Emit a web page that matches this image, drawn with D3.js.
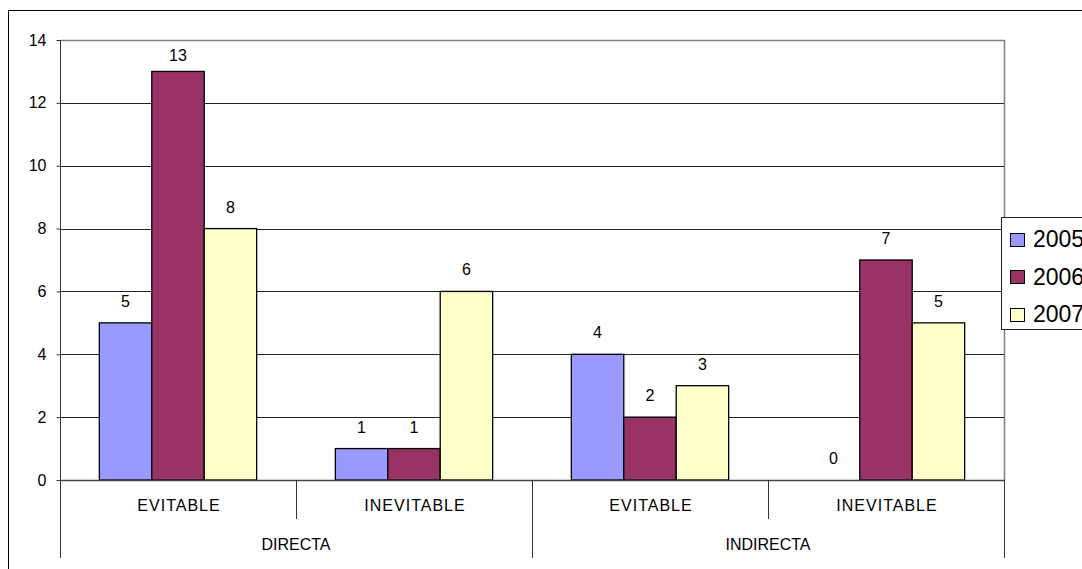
<!DOCTYPE html>
<html>
<head>
<meta charset="utf-8">
<script src="https://cdn.jsdelivr.net/npm/d3@7"></script>
<style>
  html, body { margin: 0; padding: 0; background: #fff; overflow: hidden; }
  svg { display: block; font-family: "Liberation Sans", Arial, sans-serif; }
</style>
</head>
<body>
<svg id="chart" width="1082" height="569"></svg>
<script>
// ---- data ----
const groups = ["DIRECTA", "INDIRECTA"];
const subcats = ["EVITABLE", "INEVITABLE", "EVITABLE", "INEVITABLE"];
const subcatGroup = [0, 0, 1, 1];
const seriesNames = ["2005", "2006", "2007"];
const values2005 = [5, 1, 4, 0];
const values2006 = [13, 1, 2, 7];
const values2007 = [8, 6, 3, 5];
const yTicks = [0, 2, 4, 6, 8, 10, 12, 14];
const colors = ["#9999FF", "#993366", "#FFFFCC"];

const seriesValues = [values2005, values2006, values2007];

// ---- layout ----
const svg = d3.select("#chart");
const pLeft = 60, pRight = 1004, pTop = 40, zeroY = 480, bottomY = 558, tick1Y = 519;
const fs = 16;

// outer chart border
svg.append("rect").attr("x", 8.5).attr("y", 10.5).attr("width", 1200).attr("height", 700)
  .attr("fill", "none").attr("stroke", "#000").attr("stroke-width", 1);

const keys = subcats.map((d, i) => i);
const x0 = d3.scaleBand().domain(keys).range([pLeft, pRight]).padding(0);
const x1 = d3.scaleBand().domain(seriesNames).range([0, x0.bandwidth()]).paddingInner(0).paddingOuter(0.75);
const y = d3.scaleLinear().domain([0, 14]).range([zeroY, pTop]);

// gridlines
svg.append("g").selectAll("line").data(yTicks.filter(t => t > 0 && t < 14)).join("line")
  .attr("x1", pLeft).attr("x2", pRight)
  .attr("y1", d => Math.round(y(d)) + 0.5).attr("y2", d => Math.round(y(d)) + 0.5)
  .attr("stroke", "#222").attr("stroke-width", 1);

// plot top & right border (gray)
svg.append("line").attr("x1", pLeft).attr("x2", pRight + 1).attr("y1", pTop + 0.5).attr("y2", pTop + 0.5)
  .attr("stroke", "#808080").attr("stroke-width", 1.5);
svg.append("line").attr("x1", pRight + 0.5).attr("x2", pRight + 0.5).attr("y1", pTop).attr("y2", zeroY)
  .attr("stroke", "#808080").attr("stroke-width", 1.5);

// bars
const barG = svg.append("g");
seriesNames.forEach((s, si) => {
  barG.append("g").selectAll("rect").data(seriesValues[si]).join("rect")
    .attr("x", (d, i) => x0(i) + x1(s))
    .attr("y", d => y(d))
    .attr("width", x1.bandwidth())
    .attr("height", d => zeroY - y(d))
    .attr("fill", colors[si])
    .attr("stroke", "#000")
    .attr("stroke-width", d => d === 0 ? 0 : 1.3);
});

// data labels
seriesNames.forEach((s, si) => {
  svg.append("g").selectAll("text").data(seriesValues[si]).join("text")
    .attr("x", (d, i) => x0(i) + x1(s) + x1.bandwidth() / 2)
    .attr("y", d => Math.max(y(d) - 16, pTop + 21))
    .attr("text-anchor", "middle")
    .attr("font-size", fs)
    .attr("fill", "#000")
    .text(d => d);
});

// y axis
const yAxis = d3.axisLeft(y).tickValues(yTicks).tickSize(4).tickPadding(10).tickFormat(d3.format("d"));
const yg = svg.append("g").attr("transform", `translate(${pLeft + 0.5},0)`).call(yAxis);
yg.select(".domain").remove();
yg.selectAll(".tick line").attr("stroke", "#333");
yg.selectAll(".tick text").attr("font-size", fs).attr("font-family", "Liberation Sans, Arial, sans-serif").attr("fill", "#000");
svg.append("line").attr("x1", pLeft + 0.5).attr("x2", pLeft + 0.5).attr("y1", pTop).attr("y2", bottomY)
  .attr("stroke", "#333").attr("stroke-width", 1);

// zero axis line
svg.append("line").attr("x1", pLeft).attr("x2", pRight + 1).attr("y1", zeroY + 0.5).attr("y2", zeroY + 0.5)
  .attr("stroke", "#444").attr("stroke-width", 1.5);

// category separators
const boundaries = d3.range(1, keys.length + 1);
svg.append("g").selectAll("line").data(boundaries).join("line")
  .attr("x1", i => Math.round(i < keys.length ? x0(i) : pRight) + 0.5)
  .attr("x2", i => Math.round(i < keys.length ? x0(i) : pRight) + 0.5)
  .attr("y1", zeroY)
  .attr("y2", i => (i === 2 || i === keys.length) ? bottomY : tick1Y)
  .attr("stroke", "#333").attr("stroke-width", 1);

// subcategory labels
svg.append("g").selectAll("text").data(subcats).join("text")
  .attr("x", (d, i) => x0(i) + x0.bandwidth() / 2 + 1)
  .attr("y", 511)
  .attr("text-anchor", "middle")
  .attr("font-size", fs)
  .attr("letter-spacing", "1px")
  .attr("fill", "#000")
  .text(d => d);

// group labels
svg.append("g").selectAll("text").data(groups).join("text")
  .attr("x", (d, gi) => {
    const idx = keys.filter(k => subcatGroup[k] === gi);
    return (x0(idx[0]) + x0(idx[idx.length - 1]) + x0.bandwidth()) / 2;
  })
  .attr("y", 550)
  .attr("text-anchor", "middle")
  .attr("font-size", fs)
  .attr("fill", "#000")
  .text(d => d);

// legend
const lg = svg.append("g");
lg.append("rect").attr("x", 1001.5).attr("y", 217.5).attr("width", 200).attr("height", 112)
  .attr("fill", "#fff").attr("stroke", "#222").attr("stroke-width", 1);
seriesNames.forEach((s, si) => {
  const cy = 239.5 + si * 37.5;
  lg.append("rect").attr("x", 1010.5).attr("y", Math.round(cy - 7) + 0.5).attr("width", 14).attr("height", 13)
    .attr("fill", colors[si]).attr("stroke", "#000").attr("stroke-width", 1);
  lg.append("text").attr("x", 1033).attr("y", cy + 7.5)
    .attr("font-size", 23).attr("fill", "#000").text(s);
});
</script>
</body>
</html>
